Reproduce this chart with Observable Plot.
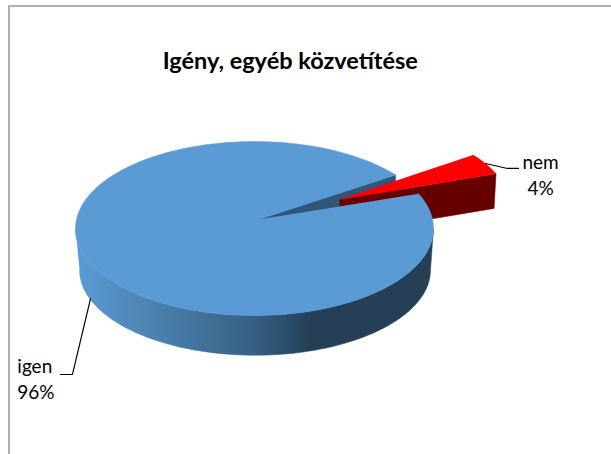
<!DOCTYPE html>
<html>
<head>
<meta charset="utf-8">
<script src="https://cdn.jsdelivr.net/npm/d3@7"></script>
<script src="https://cdn.jsdelivr.net/npm/@observablehq/plot@0.6"></script>
<style>
html,body{margin:0;padding:0;background:#fff;overflow:hidden}
#frame{position:absolute;left:8px;top:5px;right:0;bottom:0;border-left:2px solid #b0b0b0;border-top:2px solid #b0b0b0}
#chart{position:absolute;left:0;top:0}
</style>
</head>
<body>
<div id="frame"></div>
<div id="chart"></div>
<script>
const chartTitle = "Igény, egyéb közvetítése";
const categories = ["igen", "nem"];
const percents = [96, 4];
const leaderIgen = [[-0.916, -0.805], [-1.017, -1.678], [-1.084, -1.678]];
const leaderNem = [[1.291, 0.747], [1.413, 0.690], [1.475, 0.690]];
const labelAnchors = [[-1.325, -1.71], [1.598, 0.634]];

const firstAngle = 38;
const apexBlue = [0.022, 0.103];
const apexRed = [0.475, 0.333];
const redShift = [0.433, 0.23];
const depth = 0.44;

const total = d3.sum(percents);
const span = v => v / total * 360;
const pt = (deg, shift = [0, 0], rx = 1, ry = 1, cy = 0) => ({
  x: shift[0] + rx * Math.cos(deg * Math.PI / 180),
  y: shift[1] + cy + ry * Math.sin(deg * Math.PI / 180)
});
const arc = (from, to, ...rest) => {
  const n = Math.ceil(Math.abs(to - from) / 2);
  return d3.range(n + 1).map(i => pt(from + (to - from) * i / n, ...rest));
};
const xy = ([x, y]) => ({x, y});

const blueEnd = firstAngle + span(percents[0]);
const redEnd = blueEnd + span(percents[1]);

const blueTop = [xy(apexBlue), ...arc(firstAngle, blueEnd)];
const blueSide = [
  ...arc(180, 360),
  ...arc(360, 180, [0.003, 0], 0.98, 0.977, -0.48)
];
const rimA = pt(firstAngle);
const blueWall = [xy(apexBlue), rimA, {x: rimA.x, y: rimA.y - depth}, {x: apexBlue[0], y: apexBlue[1] - depth}];
const redTop = [xy(apexRed), ...arc(blueEnd, redEnd, redShift)];
const redEdge = pt(blueEnd, redShift);
const redSide = [xy(apexRed), redEdge, {x: redEdge.x - 0.011, y: redEdge.y - 0.40}, {x: apexRed[0], y: apexRed[1] - 0.40}];

const poly = (data, fill) => Plot.line(data, {x: "x", y: "y", fill, stroke: fill, strokeWidth: 0.5, curve: "linear"});
const gradient = () => {
  const defs = d3.create("svg:defs");
  const g = defs.append("linearGradient").attr("id", "sideGrad").attr("x1", 0).attr("x2", 1).attr("y1", 0).attr("y2", 0);
  [[0, "#5b9bd5"], [0.32, "#44769f"], [0.5, "#365f83"], [0.66, "#243f56"], [1, "#243f56"]]
    .forEach(([o, c]) => g.append("stop").attr("offset", o).attr("stop-color", c));
  return defs.node();
};
const labels = categories.map((c, i) => ({label: `${c}\n${percents[i]}%`, x: labelAnchors[i][0], y: labelAnchors[i][1]}));
const font = "Lato, 'Open Sans', sans-serif";

const plot = Plot.plot({
  width: 611,
  height: 454,
  margin: 0,
  style: {background: "transparent", fontFamily: font},
  x: {type: "linear", domain: [-1, 1], range: [75, 433], axis: null},
  y: {type: "linear", domain: [-1, 1], range: [315, 141], axis: null},
  marks: [
    gradient,
    poly(blueWall, "#30577a"),
    poly(redSide, "#660000"),
    poly(redTop, "#ff0000"),
    poly(blueSide, "url(#sideGrad)"),
    poly(blueTop, "#5b9bd5"),
    Plot.line(leaderIgen, {x: d => d[0], y: d => d[1], stroke: "#000", strokeWidth: 1.2}),
    Plot.line(leaderNem, {x: d => d[0], y: d => d[1], stroke: "#000", strokeWidth: 1.2}),
    Plot.text(labels.slice(0, 1), {x: "x", y: "y", text: "label", textAnchor: "start", fontSize: 19, lineHeight: 1.37, fill: "#000", fontFamily: font}),
    Plot.text(labels.slice(1), {x: "x", y: "y", text: "label", textAnchor: "middle", fontSize: 19, lineHeight: 1.37, fill: "#000", fontFamily: font}),
    Plot.text([chartTitle], {x: [0.2], y: [1.92], text: d => d, fontSize: 23.5, fontWeight: 700, fill: "#000", fontFamily: font})
  ]
});
document.getElementById("chart").appendChild(plot);
</script>
</body>
</html>
